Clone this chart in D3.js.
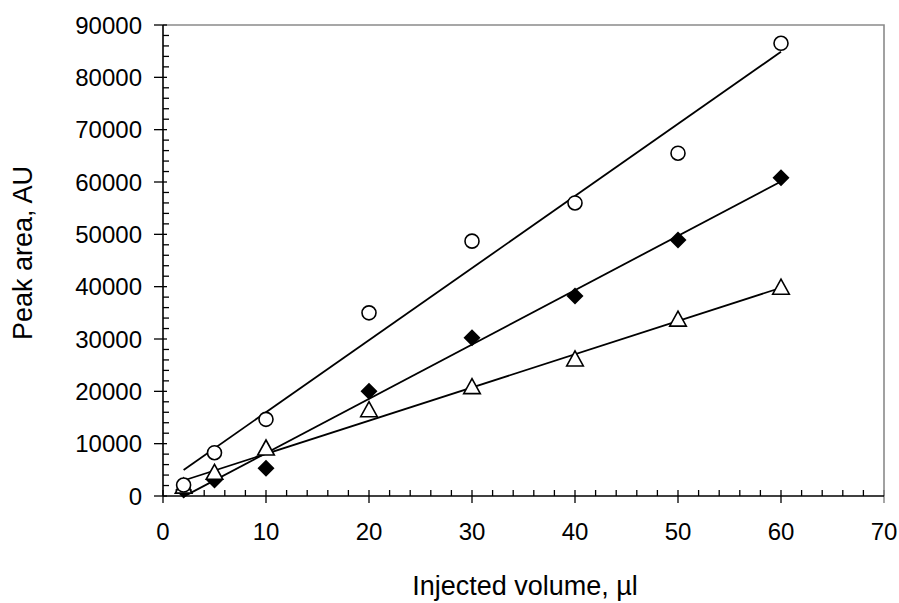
<!DOCTYPE html>
<html>
<head>
<meta charset="utf-8">
<script src="https://cdn.jsdelivr.net/npm/d3@7"></script>
<style>
  html, body { margin: 0; padding: 0; background: #fff; }
  svg { display: block; font-family: "Liberation Sans", Arial, sans-serif; }
</style>
</head>
<body>
<svg id="chart" width="899" height="603"></svg>
<script>
// ---- data ----
const volumes = [2, 5, 10, 20, 30, 40, 50, 60];
const circleSeries = [2100, 8270, 14650, 35000, 48700, 56000, 65500, 86500];
const diamondSeries = [1150, 3060, 5290, 20000, 30250, 38220, 48920, 60800];
const triangleSeries = [1700, 4340, 8980, 16300, 20700, 26000, 33600, 39700];
const xTicks = [0, 10, 20, 30, 40, 50, 60, 70];
const yTicks = [0, 10000, 20000, 30000, 40000, 50000, 60000, 70000, 80000, 90000];
const xTitle = "Injected volume, µl";
const yTitle = "Peak area, AU";

// ---- layout ----
const W = 899, H = 603;
const L = 163, R = 884, T = 25, B = 496;
const svg = d3.select("#chart");

const x = d3.scaleLinear().domain([0, 70]).range([L, R]);
const y = d3.scaleLinear().domain([0, 90000]).range([B, T]);

// frame (top/right gray)
svg.append("path")
  .attr("d", `M${L},${T}H${R}V${B}`)
  .attr("fill", "none").attr("stroke", "#8a8a8a").attr("stroke-width", 1.6);

// minor ticks
const xMinor = d3.range(0, 70.001, 2).filter(v => v % 10 !== 0);
const yMinor = d3.range(0, 90001, 2000).filter(v => v % 10000 !== 0);
const g = svg.append("g").attr("stroke", "#000").attr("stroke-width", 1.3);
g.selectAll(".xm").data(xMinor).join("line")
  .attr("x1", d => x(d)).attr("x2", d => x(d)).attr("y1", B).attr("y2", B - 6);
g.selectAll(".ym").data(yMinor).join("line")
  .attr("y1", d => y(d)).attr("y2", d => y(d)).attr("x1", L).attr("x2", L + 6);
// major ticks (crossing)
g.selectAll(".xM").data(xTicks).join("line")
  .attr("x1", d => x(d)).attr("x2", d => x(d)).attr("y1", B - 6).attr("y2", B + 7)
  .attr("stroke", d => d === 70 ? "#777" : "#000");
g.selectAll(".yM").data(yTicks).join("line")
  .attr("y1", d => y(d)).attr("y2", d => y(d)).attr("x1", L - 9).attr("x2", L + 4);

// axes lines
svg.append("line").attr("x1", L).attr("x2", R).attr("y1", B).attr("y2", B)
  .attr("stroke", "#000").attr("stroke-width", 1.6);
svg.append("line").attr("x1", L).attr("x2", L).attr("y1", T).attr("y2", B)
  .attr("stroke", "#000").attr("stroke-width", 1.6);

// tick labels
svg.selectAll(".xl").data(xTicks).join("text")
  .attr("x", d => x(d)).attr("y", 540)
  .attr("text-anchor", "middle").attr("font-size", 24).attr("fill", "#000")
  .text(d => d);
svg.selectAll(".yl").data(yTicks).join("text")
  .attr("x", 142).attr("y", d => y(d) + 8.5)
  .attr("text-anchor", "end").attr("font-size", 24).attr("fill", "#000")
  .text(d => d);

// titles
svg.append("text").attr("x", 525).attr("y", 595)
  .attr("text-anchor", "middle").attr("font-size", 27).text(xTitle);
svg.append("text").attr("transform", `translate(32,253) rotate(-90)`)
  .attr("text-anchor", "middle").attr("font-size", 27).text(yTitle);

// regression lines (least squares from the data)
function fit(xs, ys) {
  const mx = d3.mean(xs), my = d3.mean(ys);
  let sxy = 0, sxx = 0;
  xs.forEach((v, i) => { sxy += (v - mx) * (ys[i] - my); sxx += (v - mx) * (v - mx); });
  const b = sxy / sxx;
  return { b, a: my - b * mx };
}
const series = [
  { vals: circleSeries, shape: "circle" },
  { vals: diamondSeries, shape: "diamond" },
  { vals: triangleSeries, shape: "triangle" }
];
const x0 = d3.min(volumes), x1 = d3.max(volumes);
series.forEach(s => {
  const f = fit(volumes, s.vals);
  svg.append("line")
    .attr("x1", x(x0)).attr("y1", y(f.a + f.b * x0))
    .attr("x2", x(x1)).attr("y2", y(f.a + f.b * x1))
    .attr("stroke", "#000").attr("stroke-width", 1.8);
});

// markers
function drawMarkers(vals, shape) {
  const pts = volumes.map((v, i) => [x(v), y(vals[i])]);
  const gg = svg.append("g");
  if (shape === "circle") {
    gg.selectAll("circle").data(pts).join("circle")
      .attr("cx", d => d[0]).attr("cy", d => d[1]).attr("r", 7)
      .attr("fill", "#fff").attr("stroke", "#000").attr("stroke-width", 1.6);
  } else if (shape === "diamond") {
    const s = 8.5;
    gg.selectAll("path").data(pts).join("path")
      .attr("d", d => `M${d[0]},${d[1]-s}L${d[0]+s},${d[1]}L${d[0]},${d[1]+s}L${d[0]-s},${d[1]}Z`)
      .attr("fill", "#000").attr("stroke", "none");
  } else {
    gg.selectAll("path").data(pts).join("path")
      .attr("d", d => `M${d[0]},${d[1]-9}L${d[0]+8.3},${d[1]+6}L${d[0]-8.3},${d[1]+6}Z`)
      .attr("fill", "#fff").attr("stroke", "#000").attr("stroke-width", 1.6);
  }
}
drawMarkers(diamondSeries, "diamond");
drawMarkers(triangleSeries, "triangle");
drawMarkers(circleSeries, "circle");
</script>
</body>
</html>
